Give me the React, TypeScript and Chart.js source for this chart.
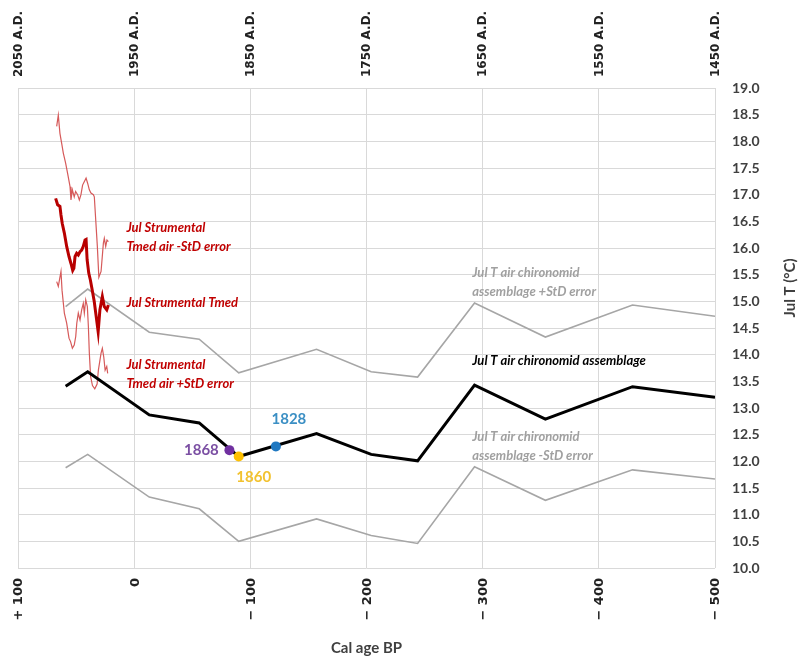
import React, { useEffect, useRef } from "react";
import { Chart, registerables } from "chart.js";

Chart.register(...registerables);

// ---- axis ticks (cal age BP; negative = future of 1950) ----
const BP_TICKS = [-100, 0, 100, 200, 300, 400, 500];
const BOTTOM_LABELS = ["+ 100", "0", "\u2212 100", "\u2212 200", "\u2212 300", "\u2212 400", "\u2212 500"];
const TOP_LABELS = ["2050 A.D.", "1950 A.D.", "1850 A.D.", "1750 A.D.", "1650 A.D.", "1550 A.D.", "1450 A.D."];

// ---- chironomid reconstruction ----
const CHIRO_AGE = [-59, -40, 13, 56, 90, 157, 204, 244, 293, 354, 429, 500];
const CHIRO_T = [13.41, 13.68, 12.87, 12.72, 12.09, 12.52, 12.13, 12.01, 13.43, 12.79, 13.4, 13.2];
const CHIRO_PLUS = [14.9, 15.23, 14.42, 14.29, 13.66, 14.1, 13.68, 13.58, 14.97, 14.33, 14.93, 14.72];
const CHIRO_MINUS = [11.88, 12.13, 11.33, 11.11, 10.5, 10.92, 10.61, 10.46, 11.9, 11.27, 11.84, 11.67];

// ---- instrumental July Tmed ----
const TMED_AGE = [-67.6, -65.9, -63.9, -63.0, -61.9, -60.1, -58.1, -56.1, -54.4, -52.9, -51.9, -50.9, -49.5, -48.1, -46.6, -45.2, -43.8, -42.3, -41.4, -40.5, -39.1, -37.7, -36.2, -34.4, -32.9, -31.0, -29.5, -27.4, -25.7, -23.6, -22.2];
const TMED_T = [16.93, 16.81, 16.78, 16.62, 16.46, 16.28, 16.03, 15.84, 15.71, 15.58, 15.62, 15.84, 15.9, 15.87, 15.93, 15.96, 16.03, 16.15, 16.16, 15.78, 15.53, 15.4, 15.22, 15.0, 14.75, 14.43, 14.84, 15.09, 14.9, 14.84, 14.93];

const TMED_MSTD_AGE = [-66.7, -65.3, -63.9, -62.4, -61.0, -59.0, -57.3, -55.2, -54.4, -53.2, -51.6, -50.4, -48.7, -47.2, -45.8, -44.4, -41.4, -40.0, -38.6, -37.2, -35.1, -34.3, -33.1, -31.7, -30.4, -28.5, -26.5, -25.7, -24.5, -23.4, -22.2];
const TMED_MSTD_T = [18.28, 18.49, 18.15, 17.96, 17.78, 17.59, 17.4, 17.15, 16.9, 17.09, 16.96, 17.06, 17.0, 16.9, 17.0, 17.18, 17.31, 17.21, 17.09, 17.03, 17.0, 16.96, 16.53, 16.03, 15.45, 15.56, 16.09, 16.18, 16.03, 16.15, 16.12];

const TMED_PSTD_AGE = [-66.7, -65.3, -63.0, -62.1, -60.1, -58.1, -56.1, -54.7, -53.2, -51.6, -50.3, -49.4, -48.1, -46.6, -45.2, -43.8, -42.9, -41.7, -40.3, -39.4, -38.6, -37.5, -35.9, -33.9, -31.9, -30.8, -28.5, -27.4, -26.2, -25.0, -23.6, -22.8];
const TMED_PSTD_T = [15.37, 15.28, 15.56, 15.21, 14.78, 14.59, 14.31, 14.24, 14.12, 14.18, 14.34, 14.59, 14.78, 14.65, 14.84, 14.96, 14.78, 15.03, 14.9, 14.52, 14.03, 13.59, 13.42, 13.36, 13.45, 13.71, 14.03, 14.12, 13.96, 13.71, 13.78, 13.65];

// ---- dated points on the chironomid curve ----
const MARK_YEARS = ["1868", "1860", "1828"];
const MARK_AGE = [82, 90, 122];
const MARK_T = [12.21, 12.09, 12.28];
const MARK_COLORS = ["#7030A0", "#FFC000", "#1F78C1"];
const MARK_TEXT_COLORS = ["#7B4FA3", "#F2C230", "#3B8FC4"];
const MARK_TEXT_OFFSET = [[-28, 0], [15, 21], [13, -27]];

// ---- series captions ----
const NOTES = [
  { lines: ["Jul Strumental", "Tmed air -StD error"], x: -6.7, y: 16.38, color: "#C00000" },
  { lines: ["Jul Strumental Tmed"], x: -6.7, y: 14.97, color: "#C00000" },
  { lines: ["Jul Strumental", "Tmed air +StD error"], x: -6.7, y: 13.81, color: "#C00000" },
  { lines: ["Jul T air chironomid", "assemblage +StD error"], x: 291, y: 15.53, color: "#A0A0A0" },
  { lines: ["Jul T air chironomid assemblage"], x: 291, y: 13.88, color: "#000000" },
  { lines: ["Jul T air chironomid", "assemblage -StD error"], x: 291, y: 12.46, color: "#A0A0A0" },
];

const FAM = "Lato, 'Open Sans', sans-serif";
const AXFAM = "'DejaVu Sans', Verdana, sans-serif";

const pts = (xs: number[], ys: number[]) => xs.map((x, i) => ({ x, y: ys[i] }));

const overlay = {
  id: "overlay",
  afterDatasetsDraw(chart: any) {
    const { ctx, chartArea, scales } = chart;
    const xs = scales.x;
    const ys = scales.y;
    ctx.save();
    ctx.textBaseline = "middle";
    ctx.textAlign = "left";
    ctx.font = `italic bold 13px ${FAM}`;
    NOTES.forEach((n) => {
      ctx.fillStyle = n.color;
      const px = xs.getPixelForValue(n.x);
      const py = ys.getPixelForValue(n.y);
      n.lines.forEach((t, i) => ctx.fillText(t, px, py + i * 19));
    });
    ctx.font = `bold 15px ${FAM}`;
    ctx.textAlign = "center";
    MARK_YEARS.forEach((t, i) => {
      ctx.fillStyle = MARK_TEXT_COLORS[i];
      const px = xs.getPixelForValue(MARK_AGE[i]) + MARK_TEXT_OFFSET[i][0];
      const py = ys.getPixelForValue(MARK_T[i]) + MARK_TEXT_OFFSET[i][1];
      ctx.fillText(t, px, py);
    });
    // axis titles
    ctx.fillStyle = "#404040";
    ctx.font = `bold 15px ${FAM}`;
    ctx.fillText("Cal age BP", (chartArea.left + chartArea.right) / 2, chartArea.bottom + 80);
    ctx.translate(chart.width - 16, chartArea.top + 200);
    ctx.rotate(-Math.PI / 2);
    ctx.fillText("Jul T (\u00B0C)", 0, 0);
    ctx.restore();
  },
};

export default function App() {
  const ref = useRef<HTMLCanvasElement | null>(null);

  useEffect(() => {
    const canvas = ref.current;
    if (!canvas) return;
    const setTicks = (s: any) => {
      s.ticks = BP_TICKS.map((v) => ({ value: v }));
    };
    const fitH = (h: number) => (s: any) => {
      s.height = h;
      s.paddingLeft = 0;
      s.paddingRight = 0;
    };
    const chart = new Chart(canvas, {
      type: "line",
      data: {
        datasets: [
          {
            data: pts(MARK_AGE, MARK_T),
            showLine: false,
            pointRadius: 5,
            pointBackgroundColor: MARK_COLORS,
            pointBorderColor: MARK_COLORS,
            pointBorderWidth: 0,
          },
          { data: pts(CHIRO_AGE, CHIRO_T), borderColor: "#000000", borderWidth: 3, pointRadius: 0 },
          { data: pts(TMED_AGE, TMED_T), borderColor: "#B80000", borderWidth: 3, pointRadius: 0 },
          { data: pts(TMED_MSTD_AGE, TMED_MSTD_T), borderColor: "#D65A5A", borderWidth: 1.2, pointRadius: 0 },
          { data: pts(TMED_PSTD_AGE, TMED_PSTD_T), borderColor: "#D65A5A", borderWidth: 1.2, pointRadius: 0 },
          { data: pts(CHIRO_AGE, CHIRO_PLUS), borderColor: "#A6A6A6", borderWidth: 1.6, pointRadius: 0 },
          { data: pts(CHIRO_AGE, CHIRO_MINUS), borderColor: "#A6A6A6", borderWidth: 1.6, pointRadius: 0 },
        ],
      },
      options: {
        animation: false,
        responsive: false,
        maintainAspectRatio: false,
        layout: { padding: { left: 18, right: 0, top: 0, bottom: 0 } },
        plugins: { legend: { display: false }, tooltip: { enabled: false } },
        elements: { line: { tension: 0 } },
        scales: {
          x: {
            type: "linear",
            position: "bottom",
            min: -100,
            max: 500,
            afterBuildTicks: setTicks,
            afterFit: fitH(89),
            ticks: {
              autoSkip: false,
              minRotation: 90,
              maxRotation: 90,
              padding: 10,
              labelOffset: 1,
              color: "#222222",
              font: { family: AXFAM, size: 13, weight: "bold" },
              callback: (v: any) => BOTTOM_LABELS[BP_TICKS.indexOf(Number(v))],
            },
            grid: { color: "#D9D9D9", lineWidth: 1, drawTicks: false },
            border: { display: false },
          },
          x2: {
            type: "linear",
            position: "top",
            min: -100,
            max: 500,
            afterBuildTicks: setTicks,
            afterFit: fitH(88),
            ticks: {
              autoSkip: false,
              minRotation: 90,
              maxRotation: 90,
              padding: 11,
              labelOffset: 15,
              color: "#222222",
              font: { family: AXFAM, size: 12, weight: "bold" },
              callback: (v: any) => TOP_LABELS[BP_TICKS.indexOf(Number(v))],
            },
            grid: { display: false, drawTicks: false },
            border: { display: false },
          },
          y: {
            position: "right",
            min: 10,
            max: 19,
            afterFit: (s: any) => {
              s.width = 91;
            },
            ticks: {
              stepSize: 0.5,
              padding: 17,
              color: "#404040",
              font: { family: FAM, size: 14, weight: "bold" },
              callback: (v: any) => Number(v).toFixed(1),
            },
            grid: { color: "#D9D9D9", lineWidth: 1, drawTicks: false },
            border: { display: false },
          },
        },
      },
      plugins: [overlay],
    } as any);
    return () => chart.destroy();
  }, []);

  return (
    <div style={{ position: "fixed", left: 0, top: 0, width: 806, height: 657, background: "#ffffff" }}>
      <canvas ref={ref} width={806} height={657} style={{ display: "block" }} />
    </div>
  );
}
